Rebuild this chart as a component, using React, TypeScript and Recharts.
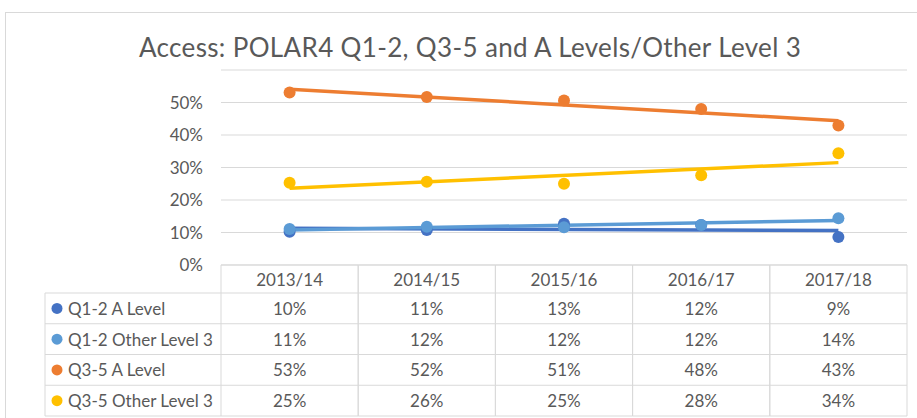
import React from "react";
import { ComposedChart, Line, XAxis, YAxis, CartesianGrid } from "recharts";

const years = ["2013/14", "2014/15", "2015/16", "2016/17", "2017/18"];
const seriesNames = ["Q1-2 A Level", "Q1-2 Other Level 3", "Q3-5 A Level", "Q3-5 Other Level 3"];
const q12ALevel = [0.102, 0.108, 0.127, 0.123, 0.086];
const q12Other = [0.111, 0.118, 0.116, 0.123, 0.144];
const q35ALevel = [0.531, 0.517, 0.506, 0.48, 0.429];
const q35Other = [0.253, 0.256, 0.25, 0.276, 0.344];
// linear trendline ends (first year, last year)
const trendStart = [0.113, 0.108, 0.541, 0.236];
const trendEnd = [0.106, 0.137, 0.444, 0.315];
const yTicks = [0, 0.1, 0.2, 0.3, 0.4, 0.5];

const colors = ["#4472C4", "#5B9BD5", "#ED7D31", "#FFC000"];
const allSeries = [q12ALevel, q12Other, q35ALevel, q35Other];

const FONT = "Lato, 'Noto Sans', sans-serif";
const TEXT = "#595959";
const GRID = "#D9D9D9";

const PLOT_LEFT = 221;
const PLOT_RIGHT = 907;
const AXIS_TOP = 265;
const COL_W = (PLOT_RIGHT - PLOT_LEFT) / years.length;
const HEAD_H = 28;
const ROW_H = 30.75;
const LEGEND_LEFT = 45;

const data = years.map((year, i) => {
  const row: any = { year };
  allSeries.forEach((s, k) => {
    row["s" + k] = s[i];
    row["t" + k] = i === 0 ? trendStart[k] : i === years.length - 1 ? trendEnd[k] : null;
  });
  return row;
});

const pct = (v: number) => `${Math.round(v * 100)}%`;

function TableTick(props: any) {
  const { x, payload, index } = props;
  const left = x - COL_W / 2;
  const right = x + COL_W / 2;
  const bottom = AXIS_TOP + HEAD_H + allSeries.length * ROW_H;
  const col = years.indexOf(payload.value);
  const rowYs = allSeries.map((_, k) => AXIS_TOP + HEAD_H + k * ROW_H);
  return (
    <g fontFamily={FONT} fontSize={17} fill={TEXT}>
      <line x1={left} x2={left} y1={AXIS_TOP} y2={bottom} stroke={GRID} />
      <line x1={right} x2={right} y1={AXIS_TOP} y2={bottom} stroke={GRID} />
      <line x1={left} x2={right} y1={AXIS_TOP} y2={AXIS_TOP} stroke={GRID} />
      {rowYs.map((ry, k) => (
        <line key={"h" + k} x1={left} x2={right} y1={ry} y2={ry} stroke={GRID} />
      ))}
      <line x1={left} x2={right} y1={bottom} y2={bottom} stroke={GRID} />
      <text x={x} y={AXIS_TOP + HEAD_H / 2} textAnchor="middle" dominantBaseline="central">
        {payload.value}
      </text>
      {allSeries.map((s, k) => (
        <text key={"v" + k} x={x} y={rowYs[k] + ROW_H / 2} textAnchor="middle" dominantBaseline="central">
          {pct(s[col])}
        </text>
      ))}
      {index === 0 && (
        <g>
          <line x1={LEGEND_LEFT} x2={LEGEND_LEFT} y1={rowYs[0]} y2={bottom} stroke={GRID} />
          {rowYs.map((ry, k) => (
            <line key={"lh" + k} x1={LEGEND_LEFT} x2={left} y1={ry} y2={ry} stroke={GRID} />
          ))}
          <line x1={LEGEND_LEFT} x2={left} y1={bottom} y2={bottom} stroke={GRID} />
          {seriesNames.map((name, k) => (
            <g key={"l" + k}>
              <circle cx={57} cy={rowYs[k] + ROW_H / 2} r={5.5} fill={colors[k]} />
              <text x={68} y={rowYs[k] + ROW_H / 2} dominantBaseline="central">
                {name}
              </text>
            </g>
          ))}
        </g>
      )}
    </g>
  );
}

export default function App() {
  return (
    <div style={{ position: "fixed", left: 0, top: 0, width: 917, height: 418, background: "#fff", overflow: "hidden" }}>
      <div
        style={{
          position: "absolute",
          left: 5,
          top: 12,
          width: 1000,
          height: 1000,
          border: "1px solid #D9D9D9",
        }}
      />
      <div
        style={{
          position: "absolute",
          left: 0,
          top: 31,
          width: 940,
          textAlign: "center",
          fontFamily: FONT,
          fontSize: 26,
          letterSpacing: 0.35,
          color: TEXT,
        }}
      >
        Access: POLAR4 Q1-2, Q3-5 and A Levels/Other Level 3
      </div>
      <div style={{ position: "absolute", left: 0, top: 0 }}>
        <ComposedChart width={917} height={418} data={data} margin={{ top: 70, right: 10, bottom: 0, left: 0 }}>
          <CartesianGrid horizontal vertical={false} stroke={GRID} />
          <XAxis
            dataKey="year"
            scale="band"
            interval={0}
            height={153}
            axisLine={false}
            tickLine={false}
            tick={<TableTick />}
          />
          <YAxis
            domain={[0, 0.6]}
            ticks={yTicks}
            width={221}
            axisLine={false}
            tickLine={false}
            tickSize={0}
            tickMargin={18}
            tickFormatter={pct}
            tick={{ fill: TEXT, fontSize: 17, fontFamily: FONT }}
          />
          {allSeries.map((_, k) => (
            <Line
              key={"s" + k}
              dataKey={"s" + k}
              stroke="none"
              strokeWidth={0}
              dot={{ r: 6, fill: colors[k], stroke: colors[k], strokeWidth: 0 }}
              activeDot={false}
              isAnimationActive={false}
            />
          ))}
          {allSeries.map((_, k) => (
            <Line
              key={"t" + k}
              dataKey={"t" + k}
              stroke={colors[k]}
              strokeWidth={3.5}
              dot={false}
              activeDot={false}
              connectNulls
              isAnimationActive={false}
            />
          ))}
        </ComposedChart>
      </div>
    </div>
  );
}
